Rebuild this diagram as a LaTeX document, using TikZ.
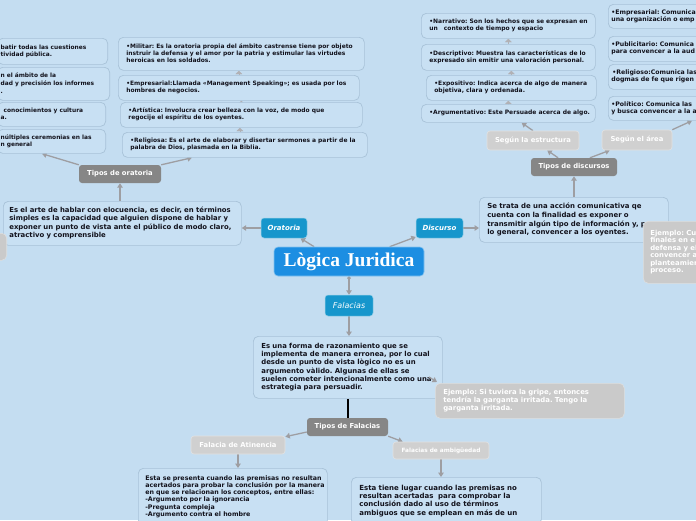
\documentclass[tikz,border=0pt]{standalone}
\usepackage{fontspec}
\setmainfont{DejaVu Sans}
\newfontfamily\titlefont{Liberation Serif}
\usetikzlibrary{arrows.meta}
\pgfdeclarelayer{back}
\pgfdeclarelayer{links}
\pgfsetlayers{back,links,main}
\definecolor{bgc}{RGB}{196,221,241}
\definecolor{boxfill}{RGB}{200,224,243}
\definecolor{boxline}{RGB}{168,194,216}
\definecolor{darkg}{RGB}{134,134,134}
\definecolor{lightg}{RGB}{208,208,208}
\definecolor{lightb}{RGB}{226,226,226}
\definecolor{exg}{RGB}{202,202,202}
\definecolor{exb}{RGB}{222,222,222}
\definecolor{lineg}{RGB}{158,158,162}
\definecolor{mainblue}{RGB}{28,142,226}
\definecolor{topic}{RGB}{22,150,204}
\definecolor{txtc}{RGB}{18,18,28}
\newcommand\fsz[2]{\bfseries\fontsize{#1}{#2}\selectfont}
\newcommand\tl[1]{\begin{tabular}{@{}l@{}}#1\end{tabular}}
\frenchspacing
\begin{document}
\begin{tikzpicture}[x=1pt,y=-1pt,
 tbox/.style={draw=boxline, fill=boxfill, line width=0.7pt, rounded corners=5pt, text=txtc, align=left, inner xsep=8pt, inner ysep=0pt, anchor=north west},
 dkbox/.style={fill=darkg, rounded corners=3pt, text=white, font=\fsz{6.8}{7}, inner sep=0pt},
 ltbox/.style={fill=lightg, draw=lightb, line width=0.6pt, rounded corners=3pt, text=white, font=\fsz{6.8}{7}, inner sep=0pt},
 exbox/.style={fill=exg, draw=exb, line width=0.6pt, rounded corners=5pt, text=white, align=left, inner xsep=8pt, inner ysep=0pt, anchor=north west},
 topicn/.style={fill=topic, draw=white!55!topic, line width=0.5pt, rounded corners=3pt, text=white, inner sep=0pt},
 conn/.style={draw=lineg, line width=1.3pt, -{Triangle[length=4.5pt,width=5.5pt]}},
 stk/.style={draw=lineg!80!white, line width=0.4pt, -{Triangle[length=3.5pt,width=7pt]}},
]
\begin{pgfonlayer}{back}
\fill[bgc] (0,0) rectangle (696,520);
\end{pgfonlayer}
\useasboundingbox (0,0) rectangle (696,520);

% ---- left column (cut) ----
\node[tbox, anchor=north east, inner xsep=3pt, text width=104pt, minimum height=26pt, font=\fsz{5.9}{7.3}] (l1) at (108,38) {\tl{batir todas las cuestiones\\tividad pública.}};
\node[tbox, anchor=north east, inner xsep=3pt, text width=106pt, minimum height=33pt, font=\fsz{5.9}{7.9}] (l2) at (110,67) {\tl{n el ámbito de la\\dad y precisión los informes\\.}};
\node[tbox, anchor=north east, inner xsep=3pt, text width=102pt, minimum height=24pt, font=\fsz{5.9}{7.3}] (l3) at (106,102) {\tl{\hspace*{3pt}conocimientos y cultura\\a.}};
\node[tbox, anchor=north east, inner xsep=3pt, text width=102pt, minimum height=24pt, font=\fsz{5.9}{7.3}] (l4) at (106,129) {\tl{núltiples ceremonias en las\\n general}};

% ---- middle column ----
\node[tbox, text width=230pt, minimum height=33pt, font=\fsz{5.95}{7.2}] (mil) at (118,37) {\tl{•Militar: Es la oratoria propia del ámbito castrense tiene por objeto\\instruir la defensa y el amor por la patria y estimular las virtudes\\heroicas en los soldados.}};
\node[tbox, text width=225pt, minimum height=25pt, font=\fsz{5.95}{7.2}] (emp) at (118,75) {\tl{•Empresarial:Llamada «Management Speaking»; es usada por los\\hombres de negocios.}};
\node[tbox, text width=226pt, minimum height=25pt, font=\fsz{5.95}{7.2}] (art) at (120,102) {\tl{•Artística: Involucra crear belleza con la voz, de modo que\\regocije el espíritu de los oyentes.}};
\node[tbox, text width=229pt, minimum height=25pt, font=\fsz{5.95}{7.2}] (rel) at (122,132) {\tl{•Religiosa: Es el arte de elaborar y disertar sermones a partir de la\\palabra de Dios, plasmada en la Biblia.}};

% ---- narrative column ----
\node[tbox, text width=158pt, minimum height=25pt, font=\fsz{6.0}{7.3}] (nar) at (421,13) {\tl{•Narrativo: Son los hechos que se expresan en\\un\hspace{6pt}contexto de tiempo y espacio}};
\node[tbox, text width=158pt, minimum height=26pt, font=\fsz{6.0}{7.3}] (des) at (421,44) {\tl{•Descriptivo: Muestra las características de lo\\expresado sin emitir una valoración personal.}};
\node[tbox, text width=154pt, minimum height=25pt, font=\fsz{6.0}{7.3}] (exp) at (426,75) {\tl{•Expositivo: Indica acerca de algo de manera\\objetiva, clara y ordenada.}};
\node[tbox, text width=158pt, minimum height=18pt, font=\fsz{6.0}{7.3}] (arg) at (421,104) {\tl{•Argumentativo: Este Persuade acerca de algo.}};

% ---- far right column (cut) ----
\node[tbox, inner xsep=3pt, text width=120pt, minimum height=24pt, font=\fsz{6.2}{7.3}] (remp) at (608,4) {\tl{•Empresarial: Comunica\\una organización o emp}};
\node[tbox, inner xsep=3pt, text width=120pt, minimum height=25pt, font=\fsz{6.2}{7.3}] (rpub) at (608,36) {\tl{•Publicitario: Comunica\\para convencer a la aud}};
\node[tbox, inner xsep=3pt, text width=120pt, minimum height=25pt, font=\fsz{6.2}{7.3}] (rrel) at (608,64) {\tl{\hspace*{1pt}•Religioso:Comunica las\\dogmas de fe que rigen}};
\node[tbox, inner xsep=3pt, text width=120pt, minimum height=24pt, font=\fsz{6.2}{7.3}] (pol) at (608,96) {\tl{•Político: Comunica las\\y busca convencer a la a}};

% ---- definitions ----
\node[tbox, inner xsep=6pt, text width=226pt, minimum height=44pt, font=\fsz{6.9}{8.3}] (odef) at (3,201) {\tl{Es el arte de hablar con elocuencia, es decir, en términos\\simples es la capacidad que alguien dispone de hablar y\\exponer un punto de vista ante el público de modo claro,\\atractivo y comprensible}};
\node[exbox, anchor=north east, text width=30pt, minimum height=27pt] (lex) at (7,233) {};
\node[tbox, text width=173pt, minimum height=45pt, font=\fsz{6.95}{8.9}] (ddef) at (479,197) {\tl{Se trata de una acción comunicativa qe\\cuenta con la finalidad es exponer o\\transmitir algún tipo de información y, por\\lo general, convencer a los oyentes.}};
\node[exbox, inner xsep=7pt, text width=60pt, minimum height=62pt, font=\fsz{6.9}{7.4}] (dex) at (643,221) {\tl{Ejemplo: Cu\\finales en e\\defensa y el\\convencer a\\planteamien\\proceso.}};
\node[tbox, text width=173pt, minimum height=62pt, font=\fsz{6.9}{8.2}] (fdef) at (253,336) {\tl{Es una forma de razonamiento que se\\implementa de manera erronea, por lo cual\\desde un punto de vista lògico no es un\\argumento vàlido. Algunas de ellas se\\suelen cometer intencionalmente como una\\estrategia para persuadir.}};
\node[exbox, text width=173pt, minimum height=35pt, font=\fsz{6.9}{7.8}] (fex) at (435,383) {\tl{Ejemplo: Si tuviera la gripe, entonces\\tendría la garganta irritada. Tengo la\\garganta irritada.}};
\node[tbox, inner xsep=7pt, inner ysep=7pt, text width=175pt, font=\fsz{6.3}{7.2}] (atdef) at (138,468) {\tl{Esta se presenta cuando las premisas no resultan\\acertados para probar la conclusión por la manera\\en que se relacionan los conceptos, entre ellas:\\-Argumento por la ignorancia\\-Pregunta compleja\\-Argumento contra el hombre}};
\node[tbox, inner ysep=7pt, text width=174pt, font=\fsz{7.0}{8.3}] (ambdef) at (351,477) {\tl{Esta tiene lugar cuando las premisas no\\resultan acertadas\ \ para comprobar la\\conclusión dado al uso de términos\\ambiguos que se emplean en más de un}};

% ---- central and topics ----
\node[fill=mainblue, draw=white!45!mainblue, line width=0.6pt, rounded corners=4pt, text=white, font=\titlefont\bfseries\fontsize{19.5}{21}\selectfont, minimum width=150pt, minimum height=29pt, inner sep=0pt] (lj) at (349,261.5) {Lògica Juridica};
\node[topicn, minimum width=46pt, minimum height=20pt, font=\bfseries\itshape\fontsize{7.0}{8}\selectfont] (or) at (284,228) {Oratoria};
\node[topicn, minimum width=47pt, minimum height=20pt, font=\bfseries\itshape\fontsize{7.0}{8}\selectfont] (di) at (439.5,228) {Discurso};
\node[topicn, minimum width=48pt, minimum height=21pt, font=\itshape\fontsize{8.0}{9}\selectfont] (fa) at (349,305.5) {Falacias};

% ---- labels ----
\node[dkbox, minimum width=82pt, minimum height=18pt] (tor) at (120,174) {Tipos de oratoria};
\node[dkbox, minimum width=86pt, minimum height=18pt] (tdi) at (574,167) {Tipos de discursos};
\node[dkbox, minimum width=81pt, minimum height=18pt] (tfa) at (347.5,427) {Tipos de Falacias};
\node[ltbox, minimum width=92pt, minimum height=19pt] (sestr) at (533,140.5) {Según la estructura};
\node[ltbox, minimum width=70pt, minimum height=20pt] (sarea) at (637,140) {Según el área};
\node[ltbox, minimum width=94pt, minimum height=18pt] (ati) at (238,445) {Falacia de Atinencia};
\node[ltbox, minimum width=96pt, minimum height=17pt, font=\fsz{5.8}{7}] (amb) at (441,450.5) {Falacias de ambigüedad};

% ---- connectors ----
\begin{pgfonlayer}{links}
\draw[conn] (lj.157) -- (or);
\draw[conn] (lj.20) -- (di);
\draw[conn, {Circle[length=3.5pt]}-{Triangle[length=4.5pt,width=5.5pt]}] (lj.south) -- (fa);
\draw[conn] (fa) -- (fa.south |- fdef.north);
\draw[conn] (or) -- (or.west -| odef.east);
\draw[conn] (di) -- (di.east -| ddef.west);
\draw[conn] (tor.south |- odef.north) -- (tor);
\draw[conn] (tdi.south |- ddef.north) -- (tdi);
\draw[conn] (tor.north west) -- ([xshift=-64pt]l4.south east);
\draw[conn] (tor.north east) -- ([xshift=70pt]rel.south west);
\draw[conn] (tdi.150) -- (sestr);
\draw[conn] (tdi.30) -- (sarea);
\draw[conn] (sestr.north) -- (arg);
\draw[conn] (sarea.north east) -- ([xshift=84pt]pol.south west);
\draw[line width=1.6pt, black] (fdef.south) -- (fdef.south |- tfa.north);
\draw[conn] ([yshift=-5pt]tfa.west) -- ([yshift=-1pt]ati.north east);
\draw[conn] (tfa.south east) -- ([xshift=10pt]amb.north west);
\draw[conn] (ati) -- (ati.south |- atdef.north);
\draw[conn] (amb) -- (amb.south |- ambdef.north);
\draw[stk] (emp.north) -- (emp.north |- mil.south);
\draw[stk] (art.north) -- (art.north |- emp.south);
\draw[stk] ([xshift=-5pt]rel.north) -- ([xshift=-5pt]rel.north |- art.south);
\draw[stk] (des.north) -- (des.north |- nar.south);
\draw[stk] (exp.north) -- (exp.north |- des.south);
\draw[stk] (arg.north) -- (arg.north |- exp.south);
\end{pgfonlayer}
\draw[conn] ([shift={(-6pt,6pt)}]fex.north west) -- ([shift={(2pt,1pt)}]fex.north west);
\end{tikzpicture}
\end{document}
